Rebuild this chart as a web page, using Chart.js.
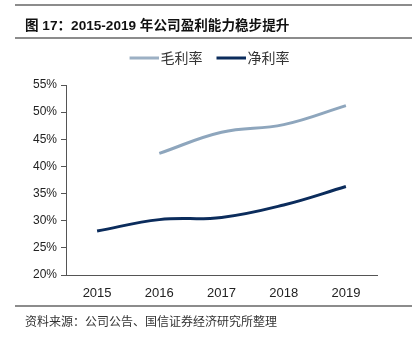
<!DOCTYPE html>
<html>
<head>
<meta charset="utf-8">
<script src="https://cdn.jsdelivr.net/npm/chart.js@4/dist/chart.umd.min.js"></script>
<style>
  html, body { margin: 0; padding: 0; background: #fff; }
  #wrap { position: relative; width: 417px; height: 342px; overflow: hidden; }
  #chart { position: absolute; left: 0; top: 0; }
  .rule { position: absolute; left: 15px; width: 397px; height: 2px; background: #8c8c8c; }
  #title { position: absolute; left: 25px; top: 14px; font: bold 13.6px "Liberation Sans", "Noto Sans CJK SC", sans-serif; color: #111; white-space: nowrap; }
  #source { position: absolute; left: 25px; top: 312px; font: 12px "Noto Sans CJK SC", sans-serif; color: #333; white-space: nowrap; }
</style>
</head>
<body>
<div id="wrap">
  <canvas id="chart" width="417" height="342"></canvas>
  <div class="rule" style="top:4px"></div>
  <div id="title">图 17：2015-2019 年公司盈利能力稳步提升</div>
  <div class="rule" style="top:37px"></div>
  <div class="rule" style="top:305px"></div>
  <div id="source">资料来源：公司公告、国信证券经济研究所整理</div>
</div>
<script>
const years = ['2015', '2016', '2017', '2018', '2019'];
const grossMargin = [null, 42.4, 46.3, 47.7, 51.2];
const netMargin = [28.1, 30.2, 30.6, 32.9, 36.3];
const yTicks = [20, 25, 30, 35, 40, 45, 50, 55];

// legend swatch: a short thick line pushed to the right edge so the text sits close
function swatch(color) {
    const c = document.createElement('canvas');
    c.width = 36; c.height = 4;
    const g = c.getContext('2d');
    g.fillStyle = color;
    g.fillRect(7, 0.5, 29, 3);
    return c;
}

// pad the legend box so the plot starts lower
const legendPad = {
    id: 'legendPad',
    beforeInit(chart) {
        const fit = chart.legend.fit;
        chart.legend.fit = function () {
            fit.call(this);
            this.height += 10;
        };
    }
};

document.addEventListener("DOMContentLoaded", () => {
    const ctx = document.getElementById('chart').getContext('2d');
    new Chart(ctx, {
        type: 'line',
        data: {
            labels: years,
            datasets: [{
                label: '毛利率',
                data: grossMargin,
                borderColor: '#8ea6bd',
                backgroundColor: '#8ea6bd',
                borderWidth: 3,
                pointRadius: 0,
                pointStyle: swatch('#9cb0c4'),
                tension: 0.4,
                spanGaps: false
            }, {
                label: '净利率',
                data: netMargin,
                borderColor: '#0b2c5c',
                backgroundColor: '#0b2c5c',
                borderWidth: 3,
                pointRadius: 0,
                pointStyle: swatch('#0b2c5c'),
                tension: 0.4
            }]
        },
        options: {
            responsive: false,
            animation: false,
            layout: { padding: { left: 0, right: 0, top: 39, bottom: 0 } },
            plugins: {
                tooltip: { enabled: false },
                legend: {
                    position: 'top',
                    labels: {
                        usePointStyle: true,
                        pointStyleWidth: 26,
                        boxHeight: 10,
                        padding: 12,
                        color: '#333',
                        font: { family: '"Noto Sans CJK SC", sans-serif', size: 14 }
                    }
                }
            },
            scales: {
                x: {
                    offset: true,
                    grid: { display: false },
                    border: { display: true, color: '#555', width: 1 },
                    ticks: {
                        color: '#222',
                        padding: 3,
                        font: { family: '"Liberation Sans", Arial, sans-serif', size: 13 }
                    },
                    afterFit: (s) => { s.height = 342 - 275; }
                },
                y: {
                    min: 20,
                    max: 55,
                    afterBuildTicks: (s) => { s.ticks = yTicks.map(v => ({ value: v })); },
                    grid: { drawOnChartArea: false, drawTicks: true, tickLength: 5, color: '#555' },
                    border: { display: true, color: '#555', width: 1 },
                    ticks: {
                        color: '#222',
                        padding: 4,
                        font: { family: '"Liberation Sans", Arial, sans-serif', size: 12 },
                        callback: (v) => v + '%'
                    },
                    afterFit: (s) => { s.width = 66; }
                },
                spacer: {
                    position: 'right',
                    grid: { display: false },
                    border: { display: false },
                    ticks: { display: false },
                    afterFit: (s) => { s.width = 40; }
                }
            }
        },
        plugins: [legendPad]
    });
});
</script>
</body>
</html>
